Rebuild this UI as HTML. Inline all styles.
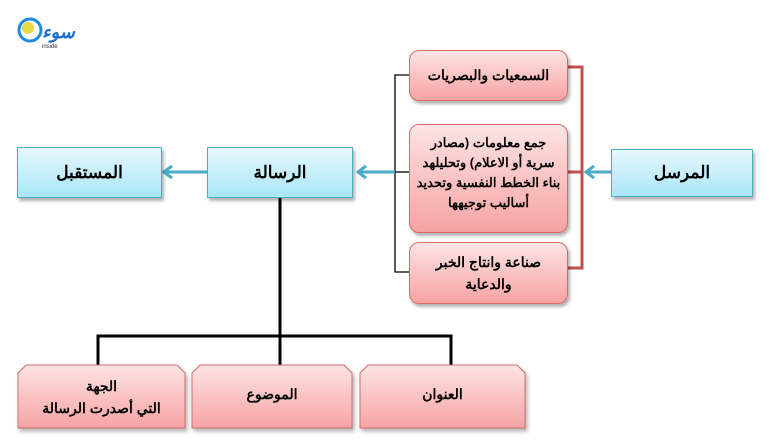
<!DOCTYPE html>
<html><head><meta charset="utf-8"><style>
body{margin:0;width:769px;height:447px;background:#fff;position:relative;overflow:hidden;font-family:"Liberation Sans","Noto Sans CJK SC",sans-serif;}
.b{position:absolute;box-sizing:border-box;display:flex;align-items:center;justify-content:center;text-align:center;direction:rtl;font-weight:bold;color:#000;}
.blue{border:1px solid #4bacc6;background:linear-gradient(#e6f8fd,#a9e6f7);box-shadow:2px 3px 3px rgba(0,0,0,.3);font-size:17px;}
.pink{border:1px solid #d76b6b;background:linear-gradient(#fde4e4,#f7a3a3);box-shadow:2px 3px 3px rgba(0,0,0,.3);border-radius:10px;font-size:13px;line-height:19px;white-space:nowrap;}
</style></head><body>
<svg width="769" height="447" style="position:absolute;left:0;top:0">
<defs>
<linearGradient id="pg" x1="0" y1="0" x2="0" y2="1"><stop offset="0" stop-color="#fde4e4"/><stop offset="1" stop-color="#f7a3a3"/></linearGradient>
</defs>
<g fill="none" stroke="#000" stroke-width="1.3">
<polyline points="409,75 395,75 395,272 409,272"/>
<line x1="395" y1="172" x2="409" y2="172"/>
</g>
<g fill="none" stroke="#c0504d" stroke-width="3">
<polyline points="568,67 582,67 582,268 568,268"/>
<line x1="568" y1="172" x2="582" y2="172"/>
</g>
<g stroke="#4bacc6" stroke-width="3" fill="none">
<line x1="611" y1="172" x2="588" y2="172"/><polyline points="594,166 586,172 594,178"/>
<line x1="395" y1="172" x2="360" y2="172"/><polyline points="366,166 358,172 366,178"/>
<line x1="207" y1="172" x2="166" y2="172"/><polyline points="172,166 164,172 172,178"/>
</g>
<g fill="none" stroke="#000" stroke-width="3">
<line x1="280" y1="198" x2="280" y2="336"/>
<polyline points="98,366 98,336 451,336 451,366"/>
<line x1="280" y1="336" x2="280" y2="366"/>
</g>
<g fill="url(#pg)" stroke="#d76b6b" stroke-width="1" style="filter:drop-shadow(2px 3px 2px rgba(0,0,0,.3))">
<polygon points="26,365 177,365 185,373 185,428 18,428 18,373"/>
<polygon points="200,365 344,365 352,373 352,428 192,428 192,373"/>
<polygon points="368,365 517,365 525,373 525,428 360,428 360,373"/>
</g>
<circle cx="30" cy="30" r="11" fill="none" stroke="#1a8be0" stroke-width="3"/>
<circle cx="28" cy="28" r="6" fill="#e8d84a"/>
<text x="42" y="38" font-family="Liberation Sans" font-weight="bold" font-style="italic" font-size="18" fill="#1a6fd0">سوء</text>
<text x="42" y="48" font-family="Liberation Sans" font-size="6" fill="#333">inside</text>
</svg>
<div class="b blue" style="left:17px;top:147px;width:145px;height:51px">المستقبل</div>
<div class="b blue" style="left:207px;top:147px;width:146px;height:51px">الرسالة</div>
<div class="b blue" style="left:611px;top:149px;width:142px;height:48px">المرسل</div>
<div class="b pink" style="left:409px;top:50px;width:159px;height:51px;font-size:14px">السمعيات والبصريات</div>
<div class="b pink" style="left:409px;top:124px;width:159px;height:109px;align-items:flex-start;padding-top:8px;line-height:20px">جمع معلومات (مصادر<br>سرية أو الاعلام) وتحليلهد<br>بناء الخطط النفسية وتحديد<br>أساليب توجيهها</div>
<div class="b pink" style="left:409px;top:242px;width:159px;height:62px;font-size:14px;line-height:22px">صناعة وانتاج الخبر<br>والدعاية</div>
<div class="b" style="left:18px;top:372px;width:167px;height:50px;font-size:14px;line-height:22px">الجهة<br>التي أصدرت الرسالة</div>
<div class="b" style="left:192px;top:374px;width:160px;height:40px;font-size:14px">الموضوع</div>
<div class="b" style="left:360px;top:374px;width:165px;height:40px;font-size:14px">العنوان</div>
</body></html>
